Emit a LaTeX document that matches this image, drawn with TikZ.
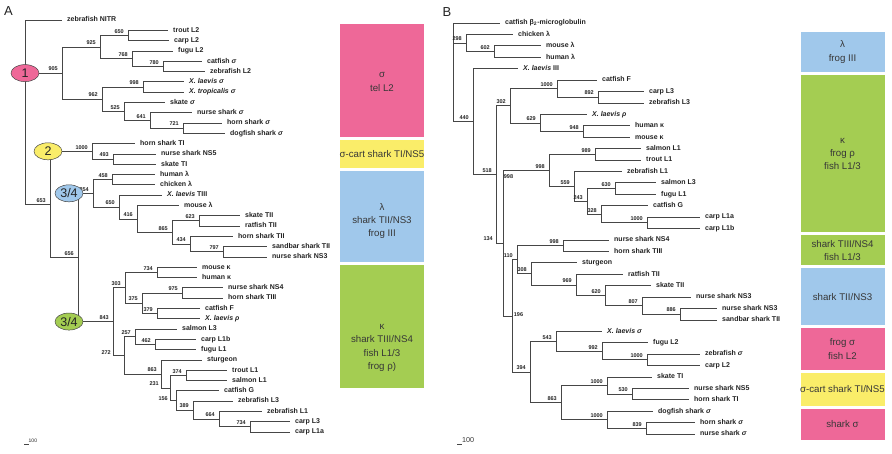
\documentclass[tikz,border=0pt]{standalone}
\usepackage{fontspec}
\setmainfont{Liberation Sans}
\usetikzlibrary{shapes.geometric}
\definecolor{cpink}{RGB}{238,104,152}
\definecolor{cyellow}{RGB}{250,237,105}
\definecolor{cblue}{RGB}{160,200,235}
\definecolor{cgreen}{RGB}{164,205,82}
\definecolor{linec}{RGB}{70,70,70}
\definecolor{txt}{RGB}{35,35,35}
\definecolor{boxtxt}{RGB}{55,55,55}
\newcommand{\kids}[3]{\draw[br] (#1) |- (#2) (#1) |- (#3);}
\newcommand{\bstr}[2]{\node[bs] (t#1) at (#1) {#2};}
\tikzset{
 br/.style={draw=linec, line width=0.8pt},
 leaf/.style={anchor=west, inner xsep=5pt, inner ysep=0pt, text height=5pt, text depth=1.4pt, font=\bfseries\fontsize{7}{8}\selectfont, text=txt},
 bs/.style={anchor=south east, xshift=-4pt, yshift=2pt, inner sep=0pt, font=\bfseries\fontsize{5.5}{6}\selectfont, text=txt},
 bsat/.style={inner sep=0pt, font=\bfseries\fontsize{5.5}{6}\selectfont, text=txt},
 clade/.style={ellipse, draw=linec, line width=0.5pt, minimum width=28pt, minimum height=17pt, inner sep=0pt, font=\fontsize{12.5}{12.5}\selectfont, text=txt},
 cbox/.style={rectangle, minimum width=84pt, inner sep=0pt},
 btext/.style={align=center, font=\fontsize{9.7}{13.3}\selectfont, text=boxtxt, inner sep=0pt},
}
\begin{document}
\begin{tikzpicture}[x=1pt,y=-1pt]
\fill[white] (0,0) rectangle (892,453);
\path[use as bounding box] (0,0) rectangle (892,453);
% ---------------- Panel A ----------------
\node[font=\fontsize{13}{13}\selectfont, text=txt, inner sep=0pt] (pA) at (8.5,11.5) {A};
\coordinate (ar) at (25,20);
\coordinate (a905) at (62,73.1);
\coordinate (a925) at (100,47);
\coordinate (a650) at (128,35.45);
\coordinate (a768) at (132,58.6);
\coordinate (a780) at (163,66.35);
\coordinate (a962) at (102,99.2);
\coordinate (a998) at (143,86.95);
\coordinate (a525) at (124,111.4);
\coordinate (a641) at (150,120.4);
\coordinate (a721) at (183,128.15);
\coordinate (a653) at (50,204.35);
\coordinate (a1000) at (92,151.3);
\coordinate (a493) at (113,159.05);
\coordinate (a656) at (78,257.4);
\coordinate (a354) at (93,193.3);
\coordinate (a458) at (112,179.65);
\coordinate (a650b) at (119,207);
\coordinate (a416) at (137,218.9);
\coordinate (a865) at (172,232.4);
\coordinate (a623) at (199,220.85);
\coordinate (a434) at (190,244);
\coordinate (a797) at (223,251.75);
\coordinate (a843) at (113,321.55);
\coordinate (a303) at (125,287.8);
\coordinate (a734) at (157,272.35);
\coordinate (a375) at (142,303.25);
\coordinate (a975) at (182,292.95);
\coordinate (a379) at (157,313.55);
\coordinate (a272) at (124,355.3);
\coordinate (a257) at (135,336.7);
\coordinate (a462) at (155,344.45);
\coordinate (a863) at (161,373.9);
\coordinate (a231) at (170,387.9);
\coordinate (a374) at (186,375.35);
\coordinate (a156) at (176,400.45);
\coordinate (a389) at (193,410.1);
\coordinate (a664) at (219,419.1);
\coordinate (a734b) at (250,426.85);
\node[leaf] (L1) at (62,20) {zebrafish NITR};
\node[leaf] (L2) at (168,30.3) {trout L2};
\node[leaf] (L3) at (169,40.6) {carp L2};
\node[leaf] (L4) at (173,50.9) {fugu L2};
\node[leaf] (L5) at (202,61.2) {catfish \textit{σ}};
\node[leaf] (L6) at (205,71.5) {zebrafish L2};
\node[leaf] (L7) at (184,81.8) {\textit{X. laevis σ}};
\node[leaf] (L8) at (184,92.1) {\textit{X. tropicalis σ}};
\node[leaf] (L9) at (165,102.4) {skate \textit{σ}};
\node[leaf] (L10) at (192,112.7) {nurse shark \textit{σ}};
\node[leaf] (L11) at (222,123) {horn shark \textit{σ}};
\node[leaf] (L12) at (225,133.3) {dogfish shark \textit{σ}};
\node[leaf] (L13) at (135,143.6) {horn shark TI};
\node[leaf] (L14) at (156,153.9) {nurse shark NS5};
\node[leaf] (L15) at (156,164.2) {skate TI};
\node[leaf] (L16) at (155,174.5) {human λ};
\node[leaf] (L17) at (155,184.8) {chicken λ};
\node[leaf] (L18) at (162,195.1) {\textit{X. laevis} TIII};
\node[leaf] (L19) at (179,205.4) {mouse λ};
\node[leaf] (L20) at (240,215.7) {skate TII};
\node[leaf] (L21) at (240,226) {ratfish TII};
\node[leaf] (L22) at (233,236.3) {horn shark TII};
\node[leaf] (L23) at (267,246.6) {sandbar shark TII};
\node[leaf] (L24) at (267,256.9) {nurse shark NS3};
\node[leaf] (L25) at (197,267.2) {mouse κ};
\node[leaf] (L26) at (197,277.5) {human κ};
\node[leaf] (L27) at (223,287.8) {nurse shark NS4};
\node[leaf] (L28) at (223,298.1) {horn shark TIII};
\node[leaf] (L29) at (200,308.4) {catfish F};
\node[leaf] (L30) at (200,318.7) {\textit{X. laevis ρ}};
\node[leaf] (L31) at (177,329) {salmon L3};
\node[leaf] (L32) at (196,339.3) {carp L1b};
\node[leaf] (L33) at (196,349.6) {fugu L1};
\node[leaf] (L34) at (202,359.9) {sturgeon};
\node[leaf] (L35) at (227,370.2) {trout L1};
\node[leaf] (L36) at (227,380.5) {salmon L1};
\node[leaf] (L37) at (219,390.8) {catfish G};
\node[leaf] (L38) at (233,401.1) {zebrafish L3};
\node[leaf] (L39) at (262,411.4) {zebrafish L1};
\node[leaf] (L40) at (290,421.7) {carp L3};
\node[leaf] (L41) at (290,432) {carp L1a};
\draw[br] (ar) -- (L1.west);
\kids{ar}{a905}{a653}
\kids{a905}{a925}{a962}
\kids{a925}{a650}{a768}
\kids{a650}{L2.west}{L3.west}
\kids{a768}{L4.west}{a780}
\kids{a780}{L5.west}{L6.west}
\kids{a962}{a998}{a525}
\kids{a998}{L7.west}{L8.west}
\kids{a525}{L9.west}{a641}
\kids{a641}{L10.west}{a721}
\kids{a721}{L11.west}{L12.west}
\kids{a653}{a1000}{a656}
\kids{a1000}{L13.west}{a493}
\kids{a493}{L14.west}{L15.west}
\kids{a656}{a354}{a843}
\kids{a354}{a458}{a650b}
\kids{a458}{L16.west}{L17.west}
\kids{a650b}{L18.west}{a416}
\kids{a416}{L19.west}{a865}
\kids{a865}{a623}{a434}
\kids{a623}{L20.west}{L21.west}
\kids{a434}{L22.west}{a797}
\kids{a797}{L23.west}{L24.west}
\kids{a843}{a303}{a272}
\kids{a303}{a734}{a375}
\kids{a734}{L25.west}{L26.west}
\kids{a375}{a975}{a379}
\kids{a975}{L27.west}{L28.west}
\kids{a379}{L29.west}{L30.west}
\kids{a272}{a257}{a863}
\kids{a257}{L31.west}{a462}
\kids{a462}{L32.west}{L33.west}
\kids{a863}{L34.west}{a231}
\kids{a231}{a374}{a156}
\kids{a374}{L35.west}{L36.west}
\kids{a156}{L37.west}{a389}
\kids{a389}{L38.west}{a664}
\kids{a664}{L39.west}{a734b}
\kids{a734b}{L40.west}{L41.west}
\bstr{a905}{905}\bstr{a925}{925}\bstr{a650}{650}\bstr{a768}{768}\bstr{a780}{780}
\bstr{a962}{962}\bstr{a998}{998}\bstr{a525}{525}\bstr{a641}{641}\bstr{a721}{721}
\bstr{a653}{653}\bstr{a1000}{1000}\bstr{a493}{493}\bstr{a656}{656}\bstr{a354}{354}
\bstr{a458}{458}\bstr{a650b}{650}\bstr{a416}{416}\bstr{a865}{865}\bstr{a623}{623}
\bstr{a434}{434}\bstr{a797}{797}\bstr{a843}{843}\bstr{a303}{303}\bstr{a734}{734}
\bstr{a375}{375}\bstr{a975}{975}\bstr{a379}{379}\bstr{a257}{257}\bstr{a462}{462}
\bstr{a863}{863}\bstr{a374}{374}\bstr{a389}{389}\bstr{a664}{664}\bstr{a734b}{734}
\node[bsat, anchor=south east] (ta272) at (111,354.5) {272};
\node[bsat, anchor=south east] (ta231) at (159,385.5) {231};
\node[bsat, anchor=south east] (ta156) at (168,401) {156};
\node[clade, fill=cpink] (c1) at (25,73.1) {1};
\node[clade, fill=cyellow] (c2) at (48,151.3) {2};
\node[clade, fill=cblue] (c3) at (69,193.3) {3/4};
\node[clade, fill=cgreen] (c4) at (69,321.55) {3/4};
\coordinate (sA1) at (24,444);
\coordinate (sA2) at (28.5,444);
\draw[linec, line width=0.6pt] (sA1) -- (sA2);
\node[anchor=south west, inner sep=0pt, font=\fontsize{5}{5}\selectfont, text=txt] (sAt) at (28.5,442.5) {100};
% boxes A
\node[cbox, fill=cpink, minimum height=113pt] (bxA1) at (382,80.5) {};
\node[btext] (txA1) at (382,82) {σ\\tel L2};
\node[cbox, fill=cyellow, minimum height=28pt] (bxA2) at (382,154) {};
\node[btext] (txA2) at (382,154) {σ-cart shark TI/NS5};
\node[cbox, fill=cblue, minimum height=91pt] (bxA3) at (382,216.5) {};
\node[btext] (txA3) at (382,221) {λ\\shark TII/NS3\\frog III};
\node[cbox, fill=cgreen, minimum height=123pt] (bxA4) at (382,326.5) {};
\node[btext] (txA4) at (382,348) {κ\\shark TIII/NS4\\fish L1/3\\frog ρ)};
% ---------------- Panel B ----------------
\node[font=\fontsize{13}{13}\selectfont, text=txt, inner sep=0pt] (pB) at (447,12) {B};
\coordinate (bR) at (453,23);
\coordinate (b602) at (494,51.55);
\coordinate (b298) at (466,42.99);
\coordinate (b892) at (598,97.23);
\coordinate (b1000a) at (557,88.67);
\coordinate (b948) at (583,131.49);
\coordinate (b629) at (540,122.93);
\coordinate (b302) at (510,105.8);
\coordinate (b989) at (595,154.33);
\coordinate (b630) at (615,188.59);
\coordinate (b1000b) at (647,222.85);
\coordinate (b328) at (601,214.29);
\coordinate (b243) at (587,201.44);
\coordinate (b559) at (574,186.45);
\coordinate (b998a) at (549,170.39);
\coordinate (b998c) at (563,245.69);
\coordinate (b886) at (680,314.21);
\coordinate (b807) at (642,305.65);
\coordinate (b620) at (605,295.66);
\coordinate (b969) at (576,284.95);
\coordinate (b308) at (531,273.89);
\coordinate (b110) at (517,259.79);
\coordinate (b1000c) at (647,359.89);
\coordinate (b992) at (602,351.33);
\coordinate (b543) at (556,341.34);
\coordinate (b530) at (632,394.15);
\coordinate (b1000d) at (607,385.59);
\coordinate (b839) at (646,428.41);
\coordinate (b1000e) at (607,419.85);
\coordinate (b863) at (561,402.72);
\coordinate (b394) at (530,372.03);
\coordinate (b196) at (512,315.91);
\coordinate (b134) at (503,243.15);
\coordinate (b518) at (496,174.48);
\coordinate (b440) at (473,121.58);
\node[leaf] (B1) at (500,23) {catfish β\textsubscript{2}-microglobulin};
\node[leaf] (B2) at (513,34.42) {chicken λ};
\node[leaf] (B3) at (541,45.84) {mouse λ};
\node[leaf] (B4) at (541,57.26) {human λ};
\node[leaf] (B5) at (518,68.68) {\textit{X. laevis} III};
\node[leaf] (B6) at (597,80.1) {catfish F};
\node[leaf] (B7) at (644,91.52) {carp L3};
\node[leaf] (B8) at (644,102.94) {zebrafish L3};
\node[leaf] (B9) at (587,114.36) {\textit{X. laevis ρ}};
\node[leaf] (B10) at (630,125.78) {human κ};
\node[leaf] (B11) at (630,137.2) {mouse κ};
\node[leaf] (B12) at (641,148.62) {salmon L1};
\node[leaf] (B13) at (641,160.04) {trout L1};
\node[leaf] (B14) at (622,171.46) {zebrafish L1};
\node[leaf] (B15) at (656,182.88) {salmon L3};
\node[leaf] (B16) at (656,194.3) {fugu L1};
\node[leaf] (B17) at (648,205.72) {catfish G};
\node[leaf] (B18) at (700,217.14) {carp L1a};
\node[leaf] (B19) at (700,228.56) {carp L1b};
\node[leaf] (B20) at (609,239.98) {nurse shark NS4};
\node[leaf] (B21) at (609,251.4) {horn shark TIII};
\node[leaf] (B22) at (577,262.82) {sturgeon};
\node[leaf] (B23) at (623,274.24) {ratfish TII};
\node[leaf] (B24) at (651,285.66) {skate TII};
\node[leaf] (B25) at (691,297.08) {nurse shark NS3};
\node[leaf] (B26) at (717,308.5) {nurse shark NS3};
\node[leaf] (B27) at (717,319.92) {sandbar shark TII};
\node[leaf] (B28) at (602,331.34) {\textit{X. laevis σ}};
\node[leaf] (B29) at (648,342.76) {fugu L2};
\node[leaf] (B30) at (700,354.18) {zebrafish \textit{σ}};
\node[leaf] (B31) at (700,365.6) {carp L2};
\node[leaf] (B32) at (652,377.02) {skate TI};
\node[leaf] (B33) at (689,388.44) {nurse shark NS5};
\node[leaf] (B34) at (689,399.86) {horn shark TI};
\node[leaf] (B35) at (653,411.28) {dogfish shark \textit{σ}};
\node[leaf] (B36) at (695,422.7) {horn shark \textit{σ}};
\node[leaf] (B37) at (695,434.12) {nurse shark \textit{σ}};
\draw[br] (bR) -- (B1.west);
\kids{bR}{b298}{b440}
\kids{b298}{B2.west}{b602}
\kids{b602}{B3.west}{B4.west}
\kids{b440}{B5.west}{b518}
\kids{b518}{b302}{b134}
\kids{b302}{b1000a}{b629}
\kids{b1000a}{B6.west}{b892}
\kids{b892}{B7.west}{B8.west}
\kids{b629}{B9.west}{b948}
\kids{b948}{B10.west}{B11.west}
\kids{b134}{b998a}{b196}
\kids{b998a}{b989}{b559}
\kids{b989}{B12.west}{B13.west}
\kids{b559}{B14.west}{b243}
\kids{b243}{b630}{b328}
\kids{b630}{B15.west}{B16.west}
\kids{b328}{B17.west}{b1000b}
\kids{b1000b}{B18.west}{B19.west}
\kids{b196}{b110}{b394}
\kids{b110}{b998c}{b308}
\kids{b998c}{B20.west}{B21.west}
\kids{b308}{B22.west}{b969}
\kids{b969}{B23.west}{b620}
\kids{b620}{B24.west}{b807}
\kids{b807}{B25.west}{b886}
\kids{b886}{B26.west}{B27.west}
\kids{b394}{b543}{b863}
\kids{b543}{B28.west}{b992}
\kids{b992}{B29.west}{b1000c}
\kids{b1000c}{B30.west}{B31.west}
\kids{b863}{b1000d}{b1000e}
\kids{b1000d}{B32.west}{b530}
\kids{b530}{B33.west}{B34.west}
\kids{b1000e}{B35.west}{b839}
\kids{b839}{B36.west}{B37.west}
\bstr{b298}{298}\bstr{b602}{602}\bstr{b440}{440}\bstr{b1000a}{1000}\bstr{b892}{892}
\bstr{b302}{302}\bstr{b629}{629}\bstr{b948}{948}\bstr{b518}{518}\bstr{b998a}{998}
\bstr{b989}{989}\bstr{b559}{559}\bstr{b243}{243}\bstr{b630}{630}\bstr{b328}{328}
\bstr{b1000b}{1000}\bstr{b110}{110}\bstr{b998c}{998}\bstr{b308}{308}\bstr{b969}{969}
\bstr{b620}{620}\bstr{b807}{807}\bstr{b886}{886}\bstr{b394}{394}\bstr{b543}{543}
\bstr{b992}{992}\bstr{b1000c}{1000}\bstr{b863}{863}\bstr{b1000d}{1000}\bstr{b530}{530}
\bstr{b1000e}{1000}\bstr{b839}{839}
\node[bsat, anchor=south east] (tb134) at (493,241) {134};
\node[bsat] (tbx998) at (508.5,176.5) {998};
\node[bsat] (tb196) at (518.5,314.5) {196};
\coordinate (sB1) at (457,444);
\coordinate (sB2) at (462,444);
\draw[linec, line width=0.6pt] (sB1) -- (sB2);
\node[anchor=west, inner sep=0pt, font=\fontsize{7.2}{8}\selectfont, text=boxtxt] (sBt) at (462,440) {100};
% boxes B
\node[cbox, fill=cblue, minimum height=40pt] (bxB1) at (842.5,52) {};
\node[btext] (txB1) at (842.5,52) {λ\\frog III};
\node[cbox, fill=cgreen, minimum height=157pt] (bxB2) at (842.5,153.5) {};
\node[btext] (txB2) at (842.5,154) {κ\\frog ρ\\fish L1/3};
\node[cbox, fill=cgreen, minimum height=30pt] (bxB3) at (842.5,250) {};
\node[btext] (txB3) at (842.5,250.5) {shark TIII/NS4\\fish L1/3};
\node[cbox, fill=cblue, minimum height=57pt] (bxB4) at (842.5,296.5) {};
\node[btext] (txB4) at (842.5,297) {shark TII/NS3};
\node[cbox, fill=cpink, minimum height=42pt] (bxB5) at (842.5,349) {};
\node[btext] (txB5) at (842.5,349) {frog σ\\fish L2};
\node[cbox, fill=cyellow, minimum height=33pt] (bxB6) at (842.5,389.5) {};
\node[btext] (txB6) at (842.5,389.5) {σ-cart shark TI/NS5};
\node[cbox, fill=cpink, minimum height=31pt] (bxB7) at (842.5,424.5) {};
\node[btext] (txB7) at (842.5,424.5) {shark σ};
\end{tikzpicture}
\end{document}
